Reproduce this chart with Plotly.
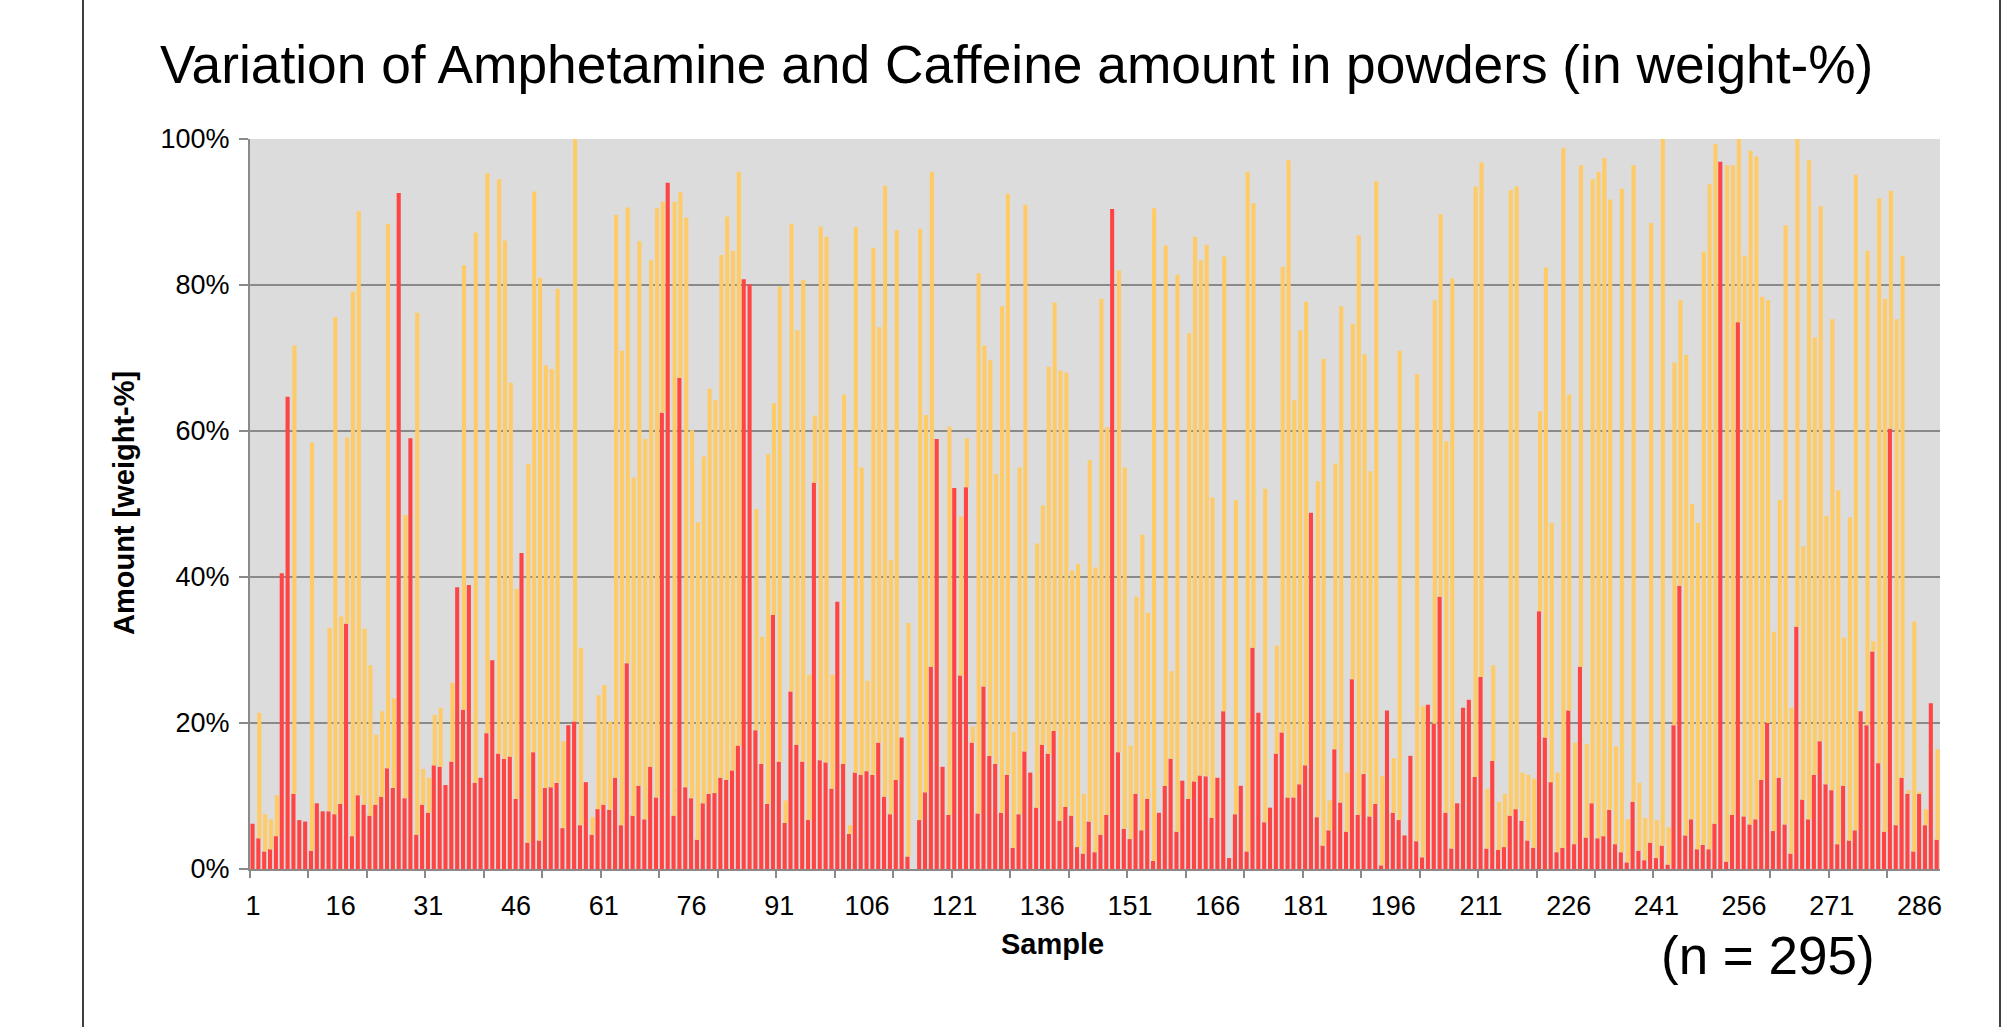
import plotly.graph_objects as go

# ---------------- data (weight-%) ----------------
samples = list(range(1, 290))

amphetamine = [
    6.2, 4.2, 2.4, 2.7, 4.5, 40.5, 64.7, 10.3, 6.7, 6.5,
    2.5, 9.0, 7.9, 7.9, 7.5, 8.9, 33.6, 4.5, 10.1, 8.8,
    7.3, 8.8, 9.9, 13.8, 11.1, 92.6, 9.7, 59.0, 4.7, 8.8,
    7.7, 14.2, 14.0, 11.5, 14.7, 38.6, 21.8, 38.9, 11.8, 12.5,
    18.6, 28.6, 15.8, 15.1, 15.4, 9.6, 43.3, 3.6, 16.0, 3.9,
    11.1, 11.2, 11.8, 5.6, 19.7, 20.2, 6.0, 11.9, 4.7, 8.2,
    8.8, 8.1, 12.5, 6.0, 28.2, 7.3, 11.4, 6.8, 14.0, 9.8,
    62.5, 94.0, 7.3, 67.3, 11.2, 9.7, 4.0, 9.0, 10.3, 10.4,
    12.5, 12.2, 13.5, 16.9, 80.8, 80.1, 19.0, 14.4, 8.9, 34.8,
    14.7, 6.3, 24.3, 17.0, 14.7, 6.7, 52.9, 14.9, 14.6, 11.0,
    36.6, 14.4, 4.8, 13.2, 12.9, 13.4, 12.9, 17.3, 9.9, 7.5,
    12.2, 18.0, 1.7, 0.0, 6.7, 10.5, 27.7, 58.9, 14.0, 7.4,
    52.2, 26.5, 52.3, 17.3, 7.6, 25.0, 15.5, 14.4, 7.7, 12.9,
    2.9, 7.5, 16.1, 13.2, 8.4, 17.0, 15.8, 18.9, 6.6, 8.5,
    7.3, 3.0, 2.1, 6.5, 2.3, 4.7, 7.4, 90.4, 16.0, 5.5,
    4.1, 10.3, 5.3, 9.6, 1.1, 7.7, 11.4, 15.1, 5.1, 12.1,
    9.6, 12.0, 12.8, 12.7, 7.0, 12.5, 21.6, 1.5, 7.5, 11.4,
    2.4, 30.3, 21.4, 6.4, 8.4, 15.8, 18.7, 9.8, 9.8, 11.6,
    14.2, 48.8, 7.1, 3.2, 5.3, 16.4, 9.1, 5.1, 26.0, 7.4,
    13.0, 7.2, 8.9, 0.5, 21.7, 7.7, 6.7, 4.6, 15.5, 3.8,
    1.6, 22.5, 19.9, 37.3, 7.7, 2.8, 9.0, 22.1, 23.2, 12.6,
    26.3, 2.8, 14.8, 2.6, 3.0, 7.3, 8.2, 6.6, 3.9, 2.9,
    35.3, 18.0, 11.9, 2.3, 2.9, 21.7, 3.4, 27.7, 4.3, 9.0,
    4.2, 4.5, 8.1, 3.4, 2.3, 0.9, 9.2, 2.5, 1.2, 3.6,
    1.5, 3.2, 0.6, 19.7, 38.8, 4.6, 6.8, 2.7, 3.3, 2.7,
    6.2, 96.9, 1.0, 7.4, 74.9, 7.2, 6.1, 6.8, 12.2, 20.0,
    5.2, 12.5, 6.1, 2.1, 33.2, 9.5, 6.8, 12.9, 17.5, 11.6,
    10.8, 3.4, 11.4, 3.9, 5.3, 21.6, 19.7, 29.8, 14.5, 5.1,
    60.3, 6.0, 12.5, 10.3, 2.4, 10.3, 6.0, 22.7, 4.0,
]

caffeine = [
    0, 17.2, 5.1, 4.1, 5.6, 0, 0, 61.4, 0, 0,
    55.9, 0, 0, 25.1, 68.1, 25.7, 25.5, 74.6, 80.0, 24.1,
    20.6, 9.6, 11.7, 74.6, 12.3, 0, 38.8, 0, 71.5, 4.9,
    4.8, 6.9, 8.1, 0, 10.8, 0, 60.9, 0, 75.4, 0,
    76.7, 0, 78.7, 71.0, 51.2, 28.8, 0, 51.9, 76.8, 77.1,
    57.9, 57.3, 67.7, 11.9, 0, 79.8, 24.3, 0, 2.4, 15.6,
    16.4, 12.1, 77.1, 65.0, 62.4, 46.3, 74.6, 52.1, 69.4, 80.7,
    28.9, 0, 84.1, 25.4, 78.0, 50.4, 43.5, 47.5, 55.5, 53.8,
    71.6, 77.2, 71.2, 78.6, 0, 0, 30.3, 17.4, 47.9, 29.0,
    65.1, 3.1, 64.1, 56.8, 66.0, 19.9, 9.2, 73.1, 72.0, 15.6,
    0, 50.6, 1.2, 74.7, 42.1, 12.4, 72.2, 56.9, 83.7, 34.8,
    75.3, 0, 32.0, 0, 81.0, 51.7, 67.8, 0, 0, 53.2,
    0, 21.8, 6.7, 2.2, 74.0, 46.7, 54.2, 39.7, 69.4, 79.6,
    15.9, 47.5, 74.9, 0, 36.2, 32.8, 53.0, 58.7, 61.7, 59.5,
    33.6, 38.8, 8.2, 49.5, 39.0, 73.4, 53.1, 0, 66.0, 49.5,
    12.8, 27.0, 40.5, 25.5, 89.4, 0, 74.0, 12.0, 76.3, 0,
    63.8, 74.6, 70.6, 72.8, 43.9, 0, 62.3, 0, 43.0, 0,
    93.1, 60.9, 0, 45.7, 0, 14.8, 63.8, 87.3, 54.4, 62.2,
    63.5, 0, 46.0, 66.7, 4.1, 39.1, 68.0, 8.1, 48.7, 79.4,
    57.5, 47.3, 85.3, 12.2, 0, 7.5, 64.3, 0, 0, 64.0,
    20.7, 0, 58.0, 52.4, 50.9, 78.1, 0, 0, 0, 80.9,
    70.5, 8.2, 13.1, 6.6, 7.3, 85.7, 85.3, 6.6, 9.0, 9.5,
    27.4, 64.4, 35.5, 10.9, 95.9, 43.3, 13.9, 68.7, 12.8, 85.5,
    91.3, 92.9, 83.6, 13.4, 90.9, 5.9, 87.2, 9.3, 5.8, 84.9,
    5.2, 96.8, 5.1, 49.7, 39.1, 65.8, 43.2, 44.7, 81.3, 91.1,
    93.1, 0, 95.4, 89.0, 25.1, 76.8, 92.3, 90.8, 66.2, 57.9,
    27.3, 38.0, 82.1, 20.0, 66.8, 34.7, 90.3, 59.9, 73.3, 36.8,
    64.5, 48.5, 20.3, 44.3, 89.8, 0, 65.0, 1.4, 77.4, 73.0,
    32.6, 69.3, 71.5, 0.5, 31.5, 0.3, 2.2, 0, 12.4,
]

x_tick_values = [1, 16, 31, 46, 61, 76, 91, 106, 121, 136, 151, 166, 181,
                 196, 211, 226, 241, 256, 271, 286]
x_tick_labels = [str(v) for v in x_tick_values]
x_tick_marks = [0.5 + 10 * k for k in range(29)]
y_tick_values = [0, 20, 40, 60, 80, 100]
y_tick_labels = ["0%", "20%", "40%", "60%", "80%", "100%"]

assert len(amphetamine) == len(samples) == len(caffeine)

# ---------------- styling ----------------
RED = "rgb(255,68,68)"
YELLOW = "rgb(255,203,102)"
GRID = "#8a8a8a"
FONT = "Liberation Sans, Arial, Helvetica, sans-serif"

W, H = 2006, 1027
PL, PR, PT, PB = 250, 1940, 139, 869


def px(x):
    return (x - PL) / (PR - PL)


def py(y):
    return (PB - y) / (PB - PT)


fig = go.Figure()
fig.add_trace(go.Bar(
    x=samples, y=amphetamine, name="Amphetamine",
    marker=dict(color=RED, line=dict(width=0)),
    width=0.7, offset=-0.42,
))
fig.add_trace(go.Bar(
    x=samples, y=caffeine, base=amphetamine, name="Caffeine",
    marker=dict(color=YELLOW, line=dict(width=0)),
    width=0.7, offset=-0.25,
))

fig.update_layout(
    width=W, height=H,
    margin=dict(l=PL, r=W - PR, t=PT, b=H - PB, pad=0),
    barmode="overlay",
    showlegend=False,
    plot_bgcolor="#dcdcdc",
    paper_bgcolor="white",
    font=dict(family=FONT, color="black"),
    xaxis=dict(
        range=[0.5, 289.5],
        tickmode="array", tickvals=x_tick_values, ticktext=x_tick_labels,
        ticks="", showgrid=False, zeroline=False,
        showline=True, linecolor=GRID, linewidth=2,
        tickfont=dict(size=27, family=FONT, color="black"),
        ticklabelstandoff=12,
        minor=dict(tickmode="array", tickvals=x_tick_marks, ticks="outside",
                   ticklen=7, tickwidth=2, tickcolor=GRID, showgrid=False),
    ),
    yaxis=dict(
        range=[0, 100],
        tickmode="array", tickvals=y_tick_values, ticktext=y_tick_labels,
        ticks="outside", ticklen=9, tickwidth=2, tickcolor=GRID,
        showgrid=True, gridcolor=GRID, gridwidth=2,
        zeroline=False, showline=True, linecolor=GRID, linewidth=2,
        tickfont=dict(size=27, family=FONT, color="black"),
        ticklabelstandoff=4,
    ),
    annotations=[
        dict(text="Variation of Amphetamine and Caffeine amount in powders (in weight-%)",
             x=px(1016), y=py(64), xref="paper", yref="paper",
             xanchor="center", yanchor="middle", showarrow=False,
             font=dict(size=53.3, family=FONT, color="black")),
        dict(text="<b>Amount [weight-%]</b>", textangle=-90,
             x=px(124), y=py(503), xref="paper", yref="paper",
             xanchor="center", yanchor="middle", showarrow=False,
             font=dict(size=29, family=FONT, color="black")),
        dict(text="<b>Sample</b>",
             x=px(1052), y=py(944), xref="paper", yref="paper",
             xanchor="center", yanchor="middle", showarrow=False,
             font=dict(size=29, family=FONT, color="black")),
        dict(text="(n = 295)",
             x=px(1768), y=py(955), xref="paper", yref="paper",
             xanchor="center", yanchor="middle", showarrow=False,
             font=dict(size=53, family=FONT, color="black")),
    ],
    shapes=[
        dict(type="line", xref="paper", yref="paper",
             x0=px(83), x1=px(83), y0=py(0), y1=py(H),
             line=dict(color="black", width=1.5)),
        dict(type="line", xref="paper", yref="paper",
             x0=px(2000), x1=px(2000), y0=py(0), y1=py(H),
             line=dict(color="black", width=1.5)),
    ],
)

fig.write_html(
    "out.html",
    config={"displayModeBar": False},
    post_script="document.body.style.margin='0';document.body.style.overflow='hidden';",
)
